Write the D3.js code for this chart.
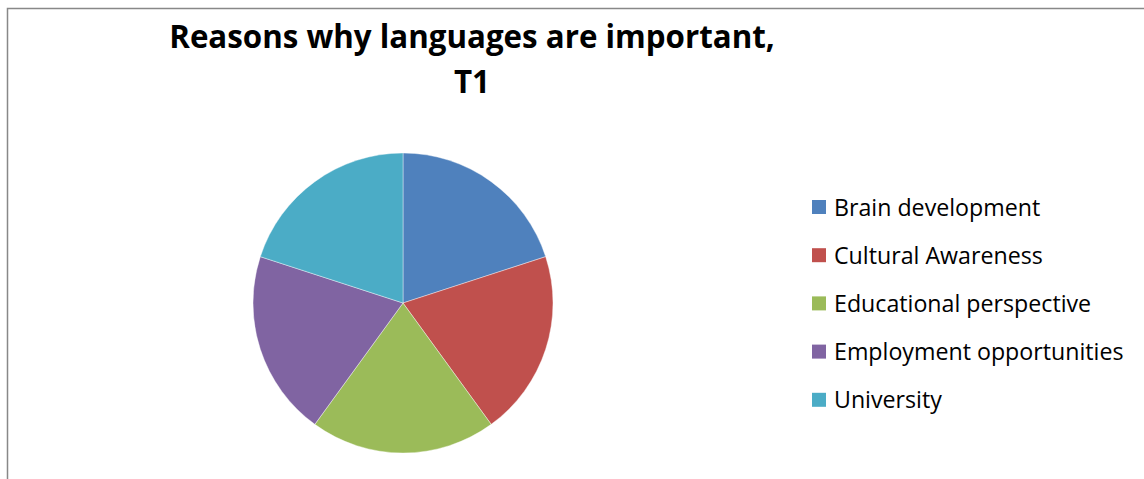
<!DOCTYPE html>
<html>
<head>
<meta charset="utf-8">
<script src="https://cdn.jsdelivr.net/npm/d3@7"></script>
<style>
  body { margin: 0; background: #fff; }
  svg { display: block; }
</style>
</head>
<body>
<div class="center"></div>
<script>
// chart data
const categories = ["Brain development", "Cultural Awareness", "Educational perspective", "Employment opportunities", "University"];
const values = [1, 1, 1, 1, 1];
const colors = ["#4F81BD", "#C0504D", "#9BBB59", "#8064A2", "#4BACC6"];
const titleLines = ["Reasons why languages are important,", "T1"];

const width = 1144;
const height = 479;

const svg = d3.select(".center").append("svg")
              .attr("width", width)
              .attr("height", height);

// chart area border (only top and left show in the crop)
svg.append("rect")
   .attr("x", 7.5)
   .attr("y", 8.5)
   .attr("width", width + 10)
   .attr("height", height + 10)
   .attr("fill", "#fff")
   .attr("stroke", "#888")
   .attr("stroke-width", 1.5);

// title
svg.append("g")
   .selectAll("text")
   .data(titleLines)
   .enter().append("text")
   .attr("x", 472)
   .attr("y", (d, i) => 48 + i * 45)
   .attr("text-anchor", "middle")
   .style("font-family", "'Open Sans', sans-serif")
   .style("font-weight", "700")
   .style("font-size", "31.3px")
   .text(d => d);

// pie
const colorScale = d3.scaleOrdinal().domain(categories).range(colors);
const pie = d3.pie().sort(null).value(d => d.value);
const arc = d3.arc().innerRadius(0).outerRadius(150);
const data = categories.map((c, i) => ({name: c, value: values[i]}));

svg.append("g")
   .attr("transform", "translate(403,303)")
   .selectAll("path")
   .data(pie(data))
   .enter().append("path")
   .attr("d", arc)
   .attr("fill", d => colorScale(d.data.name))
   .attr("stroke", "#fff")
   .attr("stroke-width", 0.4);

// legend
const legend = svg.append("g")
                  .attr("transform", "translate(812,200)")
                  .selectAll("g")
                  .data(categories)
                  .enter().append("g")
                  .attr("transform", (d, i) => `translate(0,${i * 48.2})`);

legend.append("rect")
      .attr("width", 14)
      .attr("height", 14)
      .attr("fill", d => colorScale(d));

legend.append("text")
      .attr("x", 22)
      .attr("y", 15.5)
      .style("font-family", "'Open Sans', sans-serif")
      .style("font-size", "23.2px")
      .style("fill", "#000")
      .text(d => d);
</script>
</body>
</html>
